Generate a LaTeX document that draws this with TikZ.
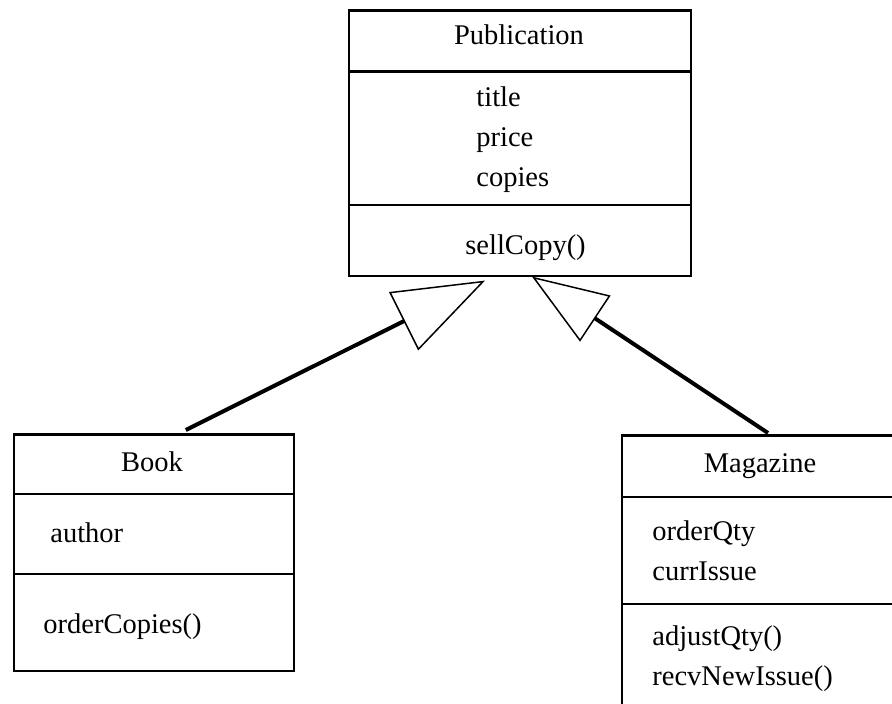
\documentclass[tikz,border=0pt]{standalone}
\usepackage{fontspec}
\setmainfont{Liberation Serif}
\usetikzlibrary{arrows.meta,positioning,calc}

\begin{document}
\begin{tikzpicture}[x=0.5pt, y=-0.5pt,
    part/.style={draw, line width=0.8pt, anchor=north west, inner sep=0pt},
    label/.style={anchor=base west, inner sep=0pt, font=\fontsize{14.25}{17}\selectfont},
    title/.style={anchor=base, inner sep=0pt, font=\fontsize{14.25}{17}\selectfont},
    inherit/.style={line width=2pt}]
  \clip (0,0) rectangle (892,704);

  % Publication class
  \node[part, minimum width=171pt, minimum height=30pt] (pubHead) at (348,10) {};
  \node[part, minimum width=171pt, minimum height=67pt] (pubAttr) at (348,70) {};
  \node[part, minimum width=171pt, minimum height=35.5pt] (pubOps) at (348,204) {};
  \draw[line width=1.3pt] (pubHead.north west) -- (pubHead.north east);
  \draw[line width=1.3pt] (pubHead.south west) -- (pubHead.south east);
  \node[title] (pubName) at (519,45) {Publication};
  \node[label] (pubTitle) at (476,107) {title};
  \node[label] (pubPrice) at (476,147) {price};
  \node[label] (pubCopies) at (476,187) {copies};
  \node[label] (pubSell) at (465,255) {sellCopy()};

  % Book class
  \node[part, minimum width=140pt, minimum height=29.5pt] (bookHead) at (13,434) {};
  \node[part, minimum width=140pt, minimum height=40pt] (bookAttr) at (13,493) {};
  \node[part, minimum width=140pt, minimum height=48.5pt] (bookOps) at (13,573) {};
  \draw[line width=1.3pt] (bookHead.north west) -- (bookHead.north east);
  \node[title] (bookName) at (152,472) {Book};
  \node[label] (bookAuthor) at (50,542) {author};
  \node[label] (bookOrder) at (43,633) {orderCopies()};

  % Magazine class (runs off the page)
  \node[part, minimum width=139pt, minimum height=30.5pt] (magHead) at (621,435) {};
  \node[part, minimum width=139pt, minimum height=53.5pt] (magAttr) at (621,496) {};
  \node[part, minimum width=139pt, minimum height=60pt] (magOps) at (621,603) {};
  \draw[line width=1.3pt] (magHead.north west) -- (magHead.north east);
  \node[title] (magName) at (760,473) {Magazine};
  \node[label] (magQty) at (652,540) {orderQty};
  \node[label] (magIssue) at (652,580) {currIssue};
  \node[label] (magAdjust) at (652,645) {adjustQty()};
  \node[label] (magRecv) at (652,685) {recvNewIssue()};

  % Inheritance
  \coordinate (bookJoin) at ($(bookHead.north)+(32,-4)$);
  \coordinate (pubTipL) at ($(pubOps.south west)+(137,4)$);
  \coordinate (magJoin) at ($(magHead.north west)+(147,-2)$);
  \coordinate (pubTipR) at ($(pubOps.south west)+(184,0)$);
  \draw[inherit, -{Triangle[fill=white, length=45.5pt, width=32.5pt, line width=0.75pt]}] (bookJoin) -- (pubTipL);
  \draw[inherit, -{Triangle[fill=white, length=38pt, width=27.5pt, line width=0.75pt]}] (magJoin) -- (pubTipR);
\end{tikzpicture}
\end{document}
